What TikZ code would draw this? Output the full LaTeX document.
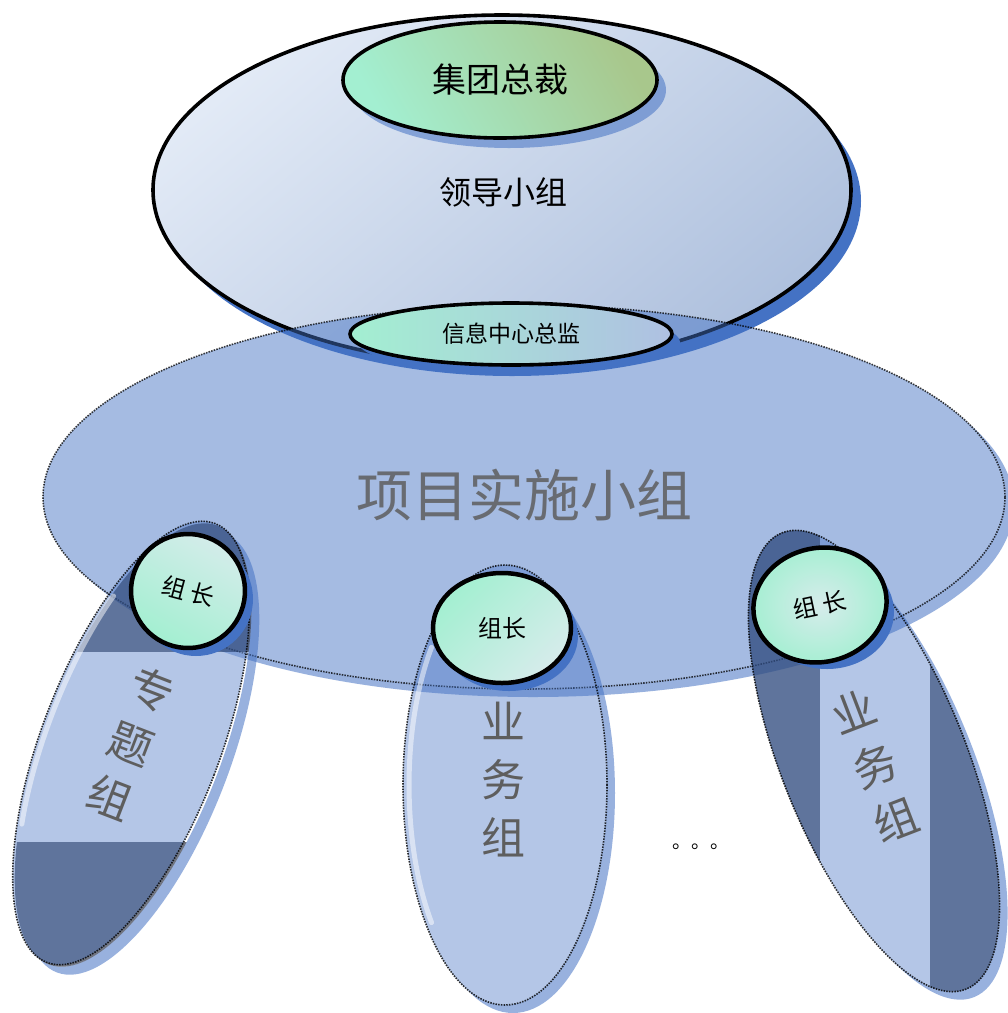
\documentclass[tikz,border=0pt]{standalone}
\usepackage{fontspec}
\newfontfamily\cjk{Noto Sans CJK SC}
\usetikzlibrary{shapes.geometric}
\definecolor{shblue}{HTML}{4472C4}
\definecolor{leadA}{HTML}{E2EAF6}
\definecolor{leadB}{HTML}{AFC1DE}
\definecolor{mint}{HTML}{A3EFD1}
\definecolor{olive}{HTML}{A8C78C}
\definecolor{paleb}{HTML}{D6ECEB}
\definecolor{infoB}{HTML}{AFC0E2}
\definecolor{darkband}{HTML}{1A2236}
\definecolor{txtgray}{HTML}{5E5E5E}
\newcommand\legfont{\cjk\fontsize{44}{58}\selectfont}
\tikzset{
  blob/.style={ellipse, draw=black, line width=3.6pt, inner sep=0pt, outer sep=0pt},
  capstyle/.style={ellipse, draw=black, line width=4.5pt, inner sep=0pt, outer sep=0pt,
     font=\cjk\fontsize{24}{28}\selectfont},
  legstyle/.style={ellipse, inner sep=0pt, outer sep=0pt, fill=shblue, fill opacity=.4,
     draw=black, draw opacity=.8, line width=1.6pt, dash pattern=on 1.5pt off 1.2pt,
     text=txtgray, text opacity=1, align=center, font=\legfont},
  band/.style={fill=darkband, fill opacity=.62},
  softshadow/.style={fill=shblue, fill opacity=.55},
  gleam/.style={draw=white, line width=5pt, draw opacity=.5, line cap=round},
}
\begin{document}
\begin{tikzpicture}[x=1pt,y=-1pt]
\useasboundingbox (0,0) rectangle (1008,1013);
\fill[white] (0,0) rectangle (1008,1013);

% leadership group
\fill[shblue] (512,201) ellipse [x radius=349, y radius=175];
\node[blob, minimum width=698pt, minimum height=350pt, shading=axis,
      top color=leadA, bottom color=leadB, shading angle=40] (lead) at (502,190) {};
\node[font=\cjk\fontsize{32}{36}\selectfont] (leadtxt) at (503,192) {领导小组};

% president
\fill[shblue, fill opacity=.55] (509,90) ellipse [x radius=157, y radius=58];
\node[blob, minimum width=314pt, minimum height=116pt, shading=axis,
      top color=olive, middle color=mint, bottom color=mint, shading angle=-60,
      font=\cjk\fontsize{34}{38}\selectfont] (pres) at (500,80) {集团总裁};

% project group
\begin{scope}[even odd rule]
  \clip (0,0) rectangle (1008,1013) (524,497) ellipse [x radius=481, y radius=192];
  \fill[softshadow] (533,505) ellipse [x radius=481, y radius=192];
\end{scope}
\node[ellipse, inner sep=0pt, outer sep=0pt, minimum width=962pt, minimum height=384pt,
      fill=shblue, fill opacity=.48, draw=black, draw opacity=.75, line width=1.6pt,
      dash pattern=on 1.5pt off 1.2pt] (proj) at (524,497) {};
\node[text=txtgray, text opacity=.85, font=\cjk\fontsize{56}{60}\selectfont] (projtxt) at (524,495) {项目实施小组};

% left leg
\begin{scope}[even odd rule]
  \clip (0,0) rectangle (1008,1013) [rotate around={-21:(133,745)}] (133,745) ellipse [x radius=89, y radius=235];
  \fill[softshadow, rotate around={-21:(141,753)}] (141,753) ellipse [x radius=89, y radius=235];
\end{scope}
\begin{scope}
  \clip[rotate around={-21:(133,745)}] (133,745) ellipse [x radius=89, y radius=235];
  \fill[band] (0,500) rectangle (260,652);
  \fill[band] (0,842) rectangle (260,1000);
  \fill[white, fill opacity=.2] (0,652) rectangle (260,842);
\end{scope}
\node[legstyle, rotate=-21, minimum width=178pt, minimum height=470pt] (legA) at (131,743) {专\\题\\组};
\draw[gleam, rotate around={-21:(131,743)}] (62,612) arc [start angle=215, end angle=150, x radius=83, y radius=229];

% middle leg
\begin{scope}[even odd rule]
  \clip (0,0) rectangle (1008,1013) (505,785) ellipse [x radius=102, y radius=220];
  \fill[softshadow] (513,793) ellipse [x radius=102, y radius=220];
\end{scope}
\node[legstyle, minimum width=204pt, minimum height=440pt] (legB) at (505,785) {};
\draw[gleam] (431.5,647.4) arc [start angle=220, end angle=140, x radius=96, y radius=214];
\node[text=txtgray, align=center, font=\legfont] (legBt) at (503,780) {业\\务\\组};

% right leg
\begin{scope}[even odd rule]
  \clip (0,0) rectangle (1008,1013) [rotate around={22:(874,761)}] (874,761) ellipse [x radius=92, y radius=246];
  \fill[softshadow, rotate around={22:(882,769)}] (882,769) ellipse [x radius=92, y radius=246];
\end{scope}
\begin{scope}
  \clip[rotate around={22:(874,761)}] (874,761) ellipse [x radius=92, y radius=246];
  \fill[band] (740,520) rectangle (820,1010);
  \fill[band] (930,520) rectangle (1008,1010);
  \fill[white, fill opacity=.2] (820,640) rectangle (930,1010);
\end{scope}
\node[legstyle, rotate=22, minimum width=184pt, minimum height=492pt] (legC) at (874,761) {};
\node[text=txtgray, align=center, font=\legfont, rotate=21] (legCt) at (875,766) {业\\务\\组};

% group leaders
\fill[shblue] (196,599) circle [radius=57];
\node[capstyle, rotate=-15, minimum width=114pt, minimum height=114pt, shading=axis,
      top color=paleb, bottom color=mint, shading angle=-30] (capA) at (188,591) {组\hspace{5pt}长};

\fill[shblue] (509,636) ellipse [x radius=69, y radius=55];
\node[capstyle, minimum width=138pt, minimum height=110pt, shading=axis,
      top color=mint, bottom color=paleb, shading angle=45] (capB) at (502,628) {组长};

\fill[shblue] (827,612) ellipse [x radius=67, y radius=57];
\node[capstyle, rotate=12, minimum width=134pt, minimum height=114pt, shading=radial,
      inner color=paleb, outer color=mint] (capC) at (820,605) {组\hspace{5pt}长};

% information center director
\fill[shblue] (519,342) ellipse [x radius=161, y radius=31];
\node[blob, minimum width=322pt, minimum height=62pt, shading=axis,
      left color=mint, right color=infoB, font=\cjk\fontsize{23}{26}\selectfont] (info) at (511,334) {信息中心总监};

% ellipsis
\node[font=\cjk\fontsize{19}{22}\selectfont, inner sep=0pt] (dots) at (701,847) {。。。};
\end{tikzpicture}
\end{document}
